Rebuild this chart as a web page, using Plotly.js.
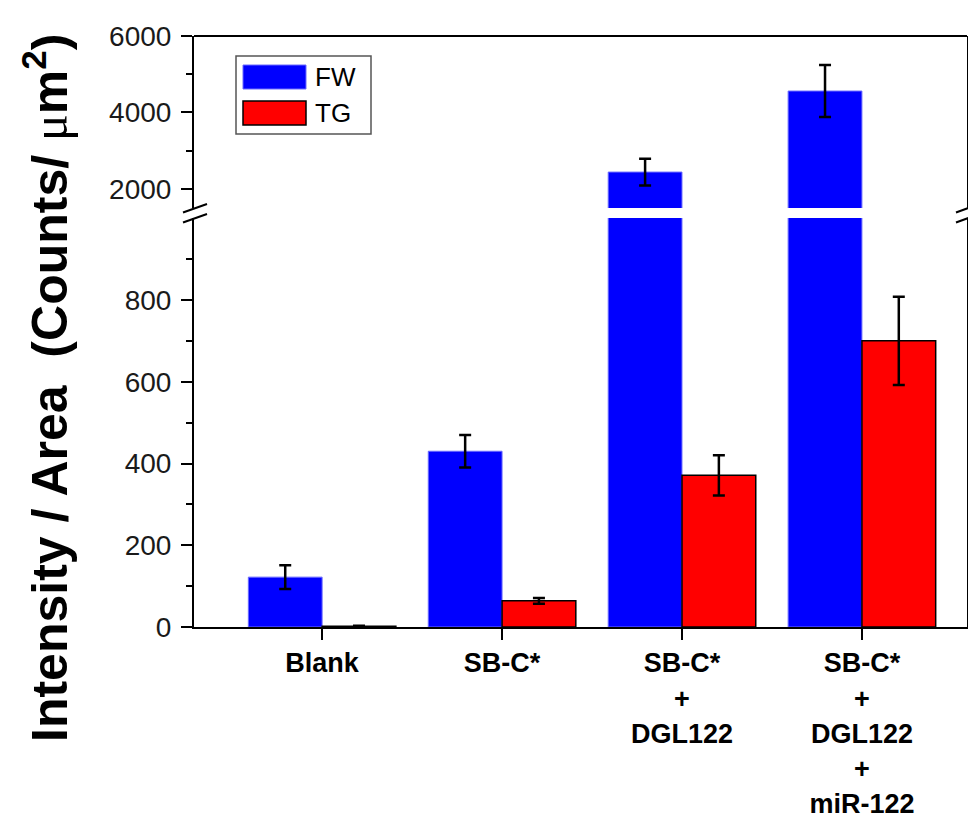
<!DOCTYPE html>
<html>
<head>
<meta charset="utf-8">
<script src="https://cdn.plot.ly/plotly-3.0.1.min.js"></script>
<style>html,body{margin:0;padding:0;background:#fff;}#chart{width:968px;height:817px;}</style>
</head>
<body>
<div id="chart"></div>
<script>
// ---- data ----
const categories = ['Blank', 'SB-C*', 'SB-C*<br>+<br>DGL122', 'SB-C*<br>+<br>DGL122<br>+<br>miR-122'];
const seriesNames = ['FW', 'TG'];
const fwValues = [122, 430, 2440, 4560];
const fwErrors = [29, 40, 350, 680];
const tgValues = [2, 64, 371, 700];
const tgErrors = [1, 7, 49, 108];
const lowTickVals = [0, 200, 400, 600, 800];
const lowTickText = ['0', '200', '400', '600', '800'];
const lowMinorVals = [100, 300, 500, 700, 900];
const highTickVals = [2000, 4000, 6000];
const highTickText = ['2000', '4000', '6000'];
const highMinorVals = [3000, 5000];

// ---- geometry helpers (layout only) ----
const W = 968, H = 817;
const L = 194, R = 1, T = 36, B = 190;
const PW = W - L - R, PH = H - T - B;
const px = v => (v - L) / PW;
const py = v => (H - B - v) / PH;

const AX = 'Liberation Sans, Arial, sans-serif';
const black = '#000000';

function barTrace(name, x, y, err, color, lineColor, lineW, yaxis) {
  return {
    type: 'bar', name: name, x: x, y: y, yaxis: yaxis, xaxis: 'x',
    marker: {color: color, line: {color: lineColor, width: lineW}},
    error_y: {type: 'data', array: err, visible: true, color: black, thickness: 2.5, width: 6},
    showlegend: false, cliponaxis: true, hoverinfo: 'skip'
  };
}

const FWC = '#0000FF', TGC = '#FF0000';
const data = [
  barTrace(seriesNames[0], categories, fwValues, fwErrors, FWC, '#6a6aff', 1, 'y'),
  barTrace(seriesNames[1], categories, tgValues, tgErrors, TGC, black, 1.5, 'y'),
  barTrace(seriesNames[0], categories, fwValues, fwErrors, FWC, '#6a6aff', 1, 'y2'),
  barTrace(seriesNames[1], categories, tgValues, tgErrors, TGC, black, 1.5, 'y2')
];

const yCommon = {
  showgrid: false, zeroline: false, showline: true, mirror: true,
  linecolor: black, linewidth: 2, ticks: 'outside', ticklen: 11, tickwidth: 2, tickcolor: black,
  tickfont: {family: AX, size: 28, color: '#1a1a1a'}, ticklabelstandoff: 4,
  tickmode: 'array', anchor: 'x', fixedrange: true
};

const lowTop = py(218), highBot = py(208);

const shapes = [];
// top frame line
shapes.push({type: 'line', xref: 'paper', yref: 'paper', x0: 0, x1: 1, y0: 1, y1: 1, line: {color: black, width: 2}});
// break marks left and right
[[183, 207], [956, 979]].forEach(([a, b]) => {
  shapes.push({type: 'line', xref: 'paper', yref: 'paper', x0: px(a), x1: px(b), y0: py(212.5), y1: py(204), line: {color: black, width: 2}});
  shapes.push({type: 'line', xref: 'paper', yref: 'paper', x0: px(a), x1: px(b), y0: py(222.5), y1: py(214), line: {color: black, width: 2}});
});
// legend box and swatches
shapes.push({type: 'rect', xref: 'paper', yref: 'paper', x0: px(236), x1: px(371), y0: py(134), y1: py(56), line: {color: '#555', width: 1.5}, fillcolor: 'rgba(0,0,0,0)'});
shapes.push({type: 'rect', xref: 'paper', yref: 'paper', x0: px(243), x1: px(306), y0: py(89), y1: py(65), line: {color: '#6a6aff', width: 1}, fillcolor: FWC});
shapes.push({type: 'rect', xref: 'paper', yref: 'paper', x0: px(243), x1: px(306), y0: py(125), y1: py(101), line: {color: black, width: 1.5}, fillcolor: TGC});

const annotations = [
  {xref: 'paper', yref: 'paper', x: px(313), y: py(77), xanchor: 'left', yanchor: 'middle', showarrow: false,
   text: seriesNames[0], font: {family: AX, size: 26, color: black}},
  {xref: 'paper', yref: 'paper', x: px(313), y: py(113), xanchor: 'left', yanchor: 'middle', showarrow: false,
   text: seriesNames[1], font: {family: AX, size: 26, color: black}},
  {xref: 'paper', yref: 'paper', x: px(46), y: py(388), xanchor: 'center', yanchor: 'middle', showarrow: false, textangle: -90,
   text: '<b>Intensity / Area  (Counts/ </b><span style="font-family:\'Liberation Serif\'">μ</span><b>m<sup>2</sup>)</b>',
   font: {family: AX, size: 50, color: black}}
];

const layout = {
  width: W, height: H,
  margin: {l: L, r: R, t: T, b: B, pad: 0},
  paper_bgcolor: '#fff', plot_bgcolor: '#fff',
  barmode: 'group', bargap: 0.18, bargroupgap: 0,
  showlegend: false,
  xaxis: {
    type: 'category', categoryorder: 'array', categoryarray: categories,
    range: [-0.712, 3.584], anchor: 'y', showgrid: false, zeroline: false,
    showline: true, linecolor: black, linewidth: 2, ticks: 'outside', ticklen: 11, tickwidth: 2, tickcolor: black,
    tickfont: {family: AX, size: 27, color: black, weight: 'bold'}, ticklabelstandoff: 0, fixedrange: true
  },
  yaxis: Object.assign({}, yCommon, {
    domain: [0, lowTop], range: [0, 1000.6], tickvals: lowTickVals, ticktext: lowTickText,
    minor: {tickmode: 'array', tickvals: lowMinorVals, ticks: 'outside', ticklen: 6, tickwidth: 2, tickcolor: black, showgrid: false}
  }),
  yaxis2: Object.assign({}, yCommon, {
    domain: [highBot, 1], range: [1500, 6000], tickvals: highTickVals, ticktext: highTickText,
    minor: {tickmode: 'array', tickvals: highMinorVals, ticks: 'outside', ticklen: 6, tickwidth: 2, tickcolor: black, showgrid: false}
  }),
  shapes: shapes,
  annotations: annotations
};

Plotly.newPlot('chart', data, layout, {staticPlot: true, displayModeBar: false});
</script>
</body>
</html>
